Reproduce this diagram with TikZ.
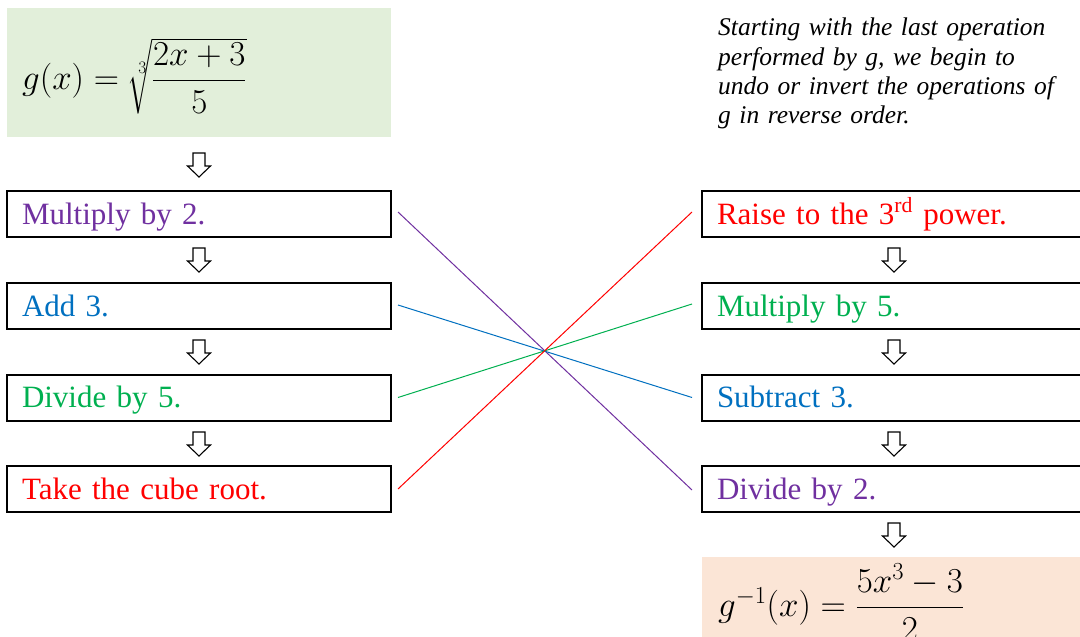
\RequirePackage{fix-cm}
\documentclass[tikz,border=0pt]{standalone}
\usepackage{amsmath}
\usepackage{fontspec}
\setmainfont{Liberation Serif}[ItalicFont={Liberation Serif Italic}, BoldFont={Liberation Serif Bold}]
\newfontfamily\notefont{Liberation Serif Italic}
\definecolor{cpurple}{HTML}{7030A0}
\definecolor{cblue}{HTML}{0070C0}
\definecolor{cgreen}{HTML}{00B050}
\definecolor{cred}{HTML}{FF0000}
\definecolor{greenfill}{HTML}{E2EFDA}
\definecolor{orangefill}{HTML}{FBE5D6}
\begin{document}
\begin{tikzpicture}[x=1pt,y=-1pt,
  opbox/.style={draw=black, line width=2pt, minimum width=384pt, minimum height=46pt,
    text width=354pt, align=left, inner xsep=15pt, inner ysep=0pt,
    text height=24pt, text depth=4pt, font=\fontsize{31}{36}\selectfont},
  fbox/.style={minimum width=384pt, minimum height=129pt, inner sep=0pt},
  mathtxt/.style={inner sep=0pt, font=\fontsize{35}{40}\selectfont},
  link/.style={line width=1pt},
  downarr/.pic={\draw[line width=1.1pt, line join=miter, fill=white]
    (-6,0) -- (6,0) -- (6,13) -- (11.5,13) -- (0,24) -- (-11.5,13) -- (-6,13) -- cycle;}
]
\useasboundingbox[fill=white] (0,0) rectangle (1080,637);

% formula boxes
\node[fbox, fill=greenfill] (G) at (199,72.5) {};
\node[mathtxt, anchor=base west] (Gf) at (22,89)
  {$g(x) = \sqrt[3]{\dfrac{2x+3}{5}}$};
\node[fbox, fill=orangefill] (H) at (894,621.5) {};
\node[mathtxt, anchor=base west] (Hf) at (718,616)
  {$g^{-1}(x) = \dfrac{5x^3-3}{2}$};

% left column
\node[opbox, text=cpurple] (L1) at (199,214) {Multiply by 2.};
\node[opbox, text=cblue]   (L2) at (199,306) {Add 3.};
\node[opbox, text=cgreen]  (L3) at (199,397.5) {Divide by 5.};
\node[opbox, text=cred]    (L4) at (199,489) {Take the cube root.};

% right column
\node[opbox, text=cred]    (R1) at (894,214) {Raise to the 3\textsuperscript{rd} power.};
\node[opbox, text=cgreen]  (R2) at (894,306) {Multiply by 5.};
\node[opbox, text=cblue]   (R3) at (894,397.5) {Subtract 3.};
\node[opbox, text=cpurple] (R4) at (894,489) {Divide by 2.};

% block arrows
\pic at (199,153) {downarr};
\pic at (199,248) {downarr};
\pic at (199,340) {downarr};
\pic at (199,432) {downarr};
\pic at (894,248) {downarr};
\pic at (894,340) {downarr};
\pic at (894,432) {downarr};
\pic at (894,523) {downarr};

% note
\node[anchor=north west, inner sep=0pt, text width=370pt, align=left,
  font=\fontsize{25.5}{29.3}\selectfont\notefont] (note) at (718,18)
  {Starting with the last operation\\performed by g, we begin to\\undo or invert the operations of\\g in reverse order.};

% connecting lines
\draw[link, cpurple] ([xshift=6pt,yshift=2pt]L1.east) -- ([xshift=-9pt,yshift=-1pt]R4.west);
\draw[link, cblue]   ([xshift=6pt,yshift=1pt]L2.east) -- ([xshift=-9pt]R3.west);
\draw[link, cgreen]  ([xshift=6pt]L3.east) -- ([xshift=-9pt,yshift=2pt]R2.west);
\draw[link, cred]    ([xshift=6pt]L4.east) -- ([xshift=-9pt,yshift=2pt]R1.west);
\end{tikzpicture}
\end{document}
